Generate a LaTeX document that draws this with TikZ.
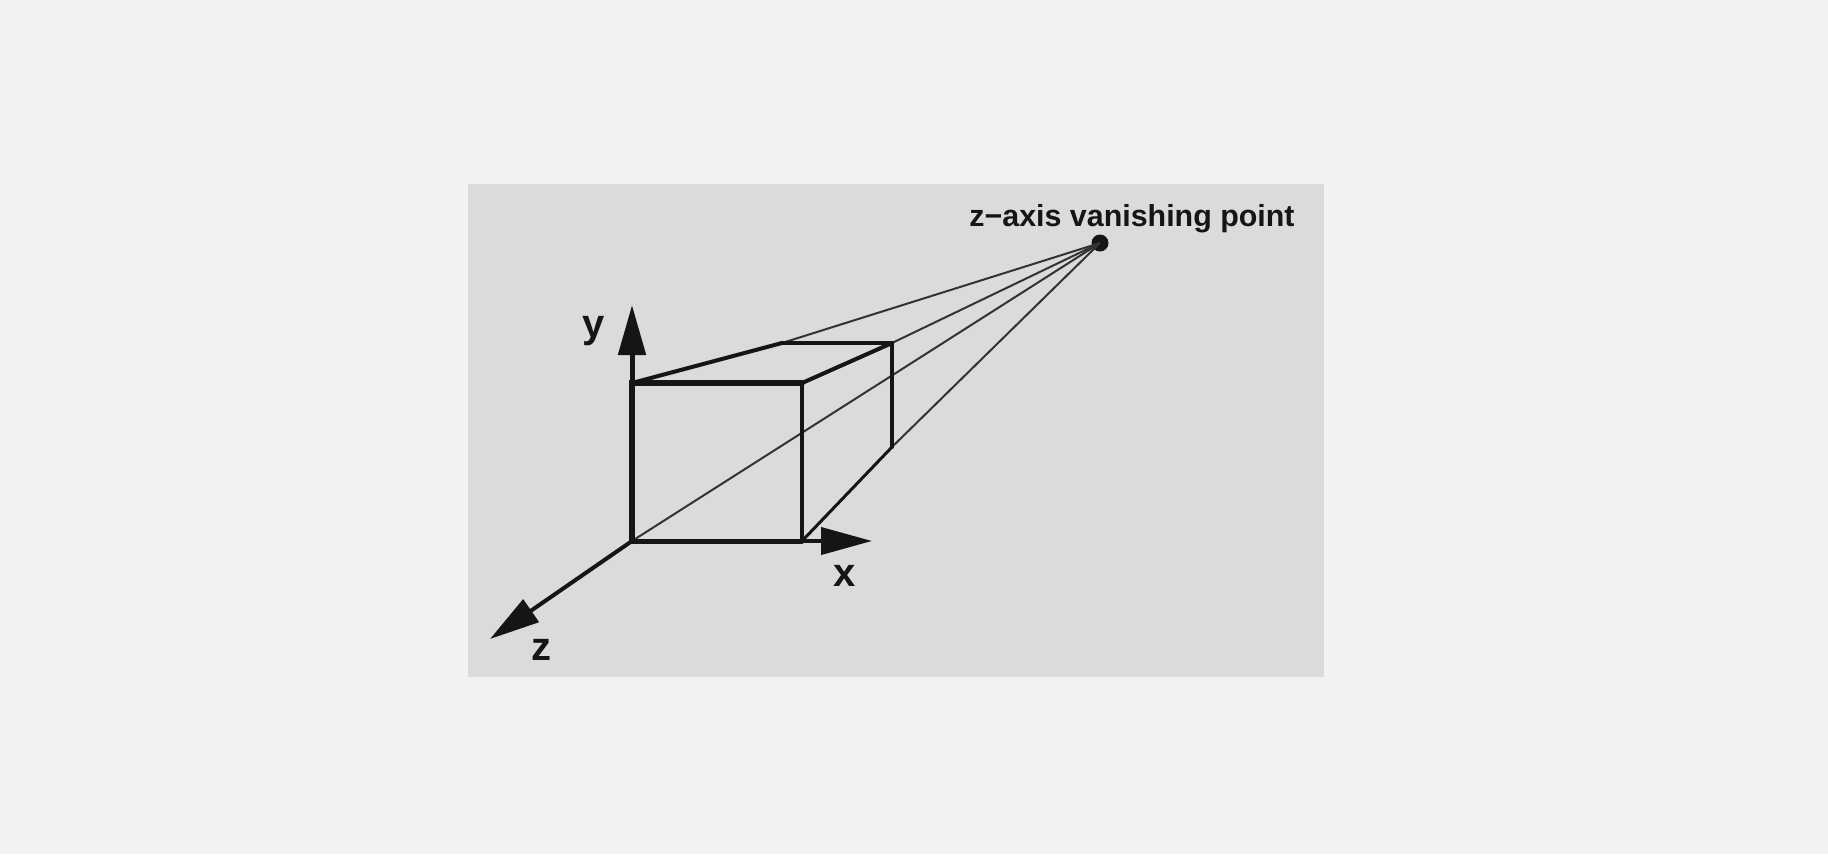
\documentclass[tikz,border=0pt]{standalone}
\usepackage{fontspec}
\setmainfont{Liberation Sans}
\usetikzlibrary{arrows.meta}
\definecolor{pagebg}{HTML}{F2F2F2}
\definecolor{panelbg}{HTML}{DBDBDB}
\definecolor{ink}{HTML}{151515}
\tikzset{
  every node/.style={text=ink,inner sep=0pt},
  ray/.style={draw=ink!85!panelbg,line width=2pt},
  edgeA/.style={draw=ink,line width=6pt,line cap=round},
  edgeB/.style={draw=ink,line width=4pt,line cap=round},
  axis/.style={draw=ink,line width=4pt},
  tip/.style={-{Triangle[length=#1,width=27pt]}},
  biglabel/.style={font=\bfseries\fontsize{40}{40}\selectfont,anchor=base},
}
\begin{document}
\begin{tikzpicture}[x=1pt,y=-1pt]
\useasboundingbox (0,0) rectangle (1828,854);
\fill[pagebg] (0,0) rectangle (1828,854);
\fill[panelbg] (468,184) rectangle (1324,677);
\coordinate (o) at (632,541);
\coordinate (a) at (802,541);
\coordinate (b) at (802,383);
\coordinate (c) at (632,383);
\coordinate (d) at (782,343);
\coordinate (e) at (892,343);
\coordinate (f) at (892,447);
\coordinate (ytip) at (632,305);
\coordinate (xtip) at (872,541);
\coordinate (ztip) at (490,639);
\node[circle,fill=ink,minimum size=17pt] (vp) at (1100,243) {};
\node[font=\bfseries\fontsize{30.4}{30.4}\selectfont,anchor=base] (vplabel) at (1132,226) {z−axis vanishing point};
\node[biglabel] (ylabel) at (594,337) {y};
\node[biglabel] (xlabel) at (845,586) {x};
\node[biglabel] (zlabel) at (541,660) {z};
\draw[ray] (vp.center) -- (d);
\draw[ray] (vp.center) -- (e);
\draw[ray] (vp.center) -- (o);
\draw[ray] (vp.center) -- (f);
\draw[edgeB] (c) -- (d);
\draw[edgeB] (d) -- (e) -- (f);
\draw[edgeB] (b) -- (e);
\draw[edgeB,line width=3pt] (a) -- (f);
\draw[axis,line width=5pt,tip=50pt] (c) -- (ytip);
\draw[axis,tip=51pt] (a) -- (xtip);
\draw[axis,tip=50pt] (o) -- (ztip);
\draw[edgeA] (o) -- (c) -- (b);
\draw[edgeB] (b) -- (a);
\draw[edgeA,line width=5pt] (a) -- (o);
\end{tikzpicture}
\end{document}
